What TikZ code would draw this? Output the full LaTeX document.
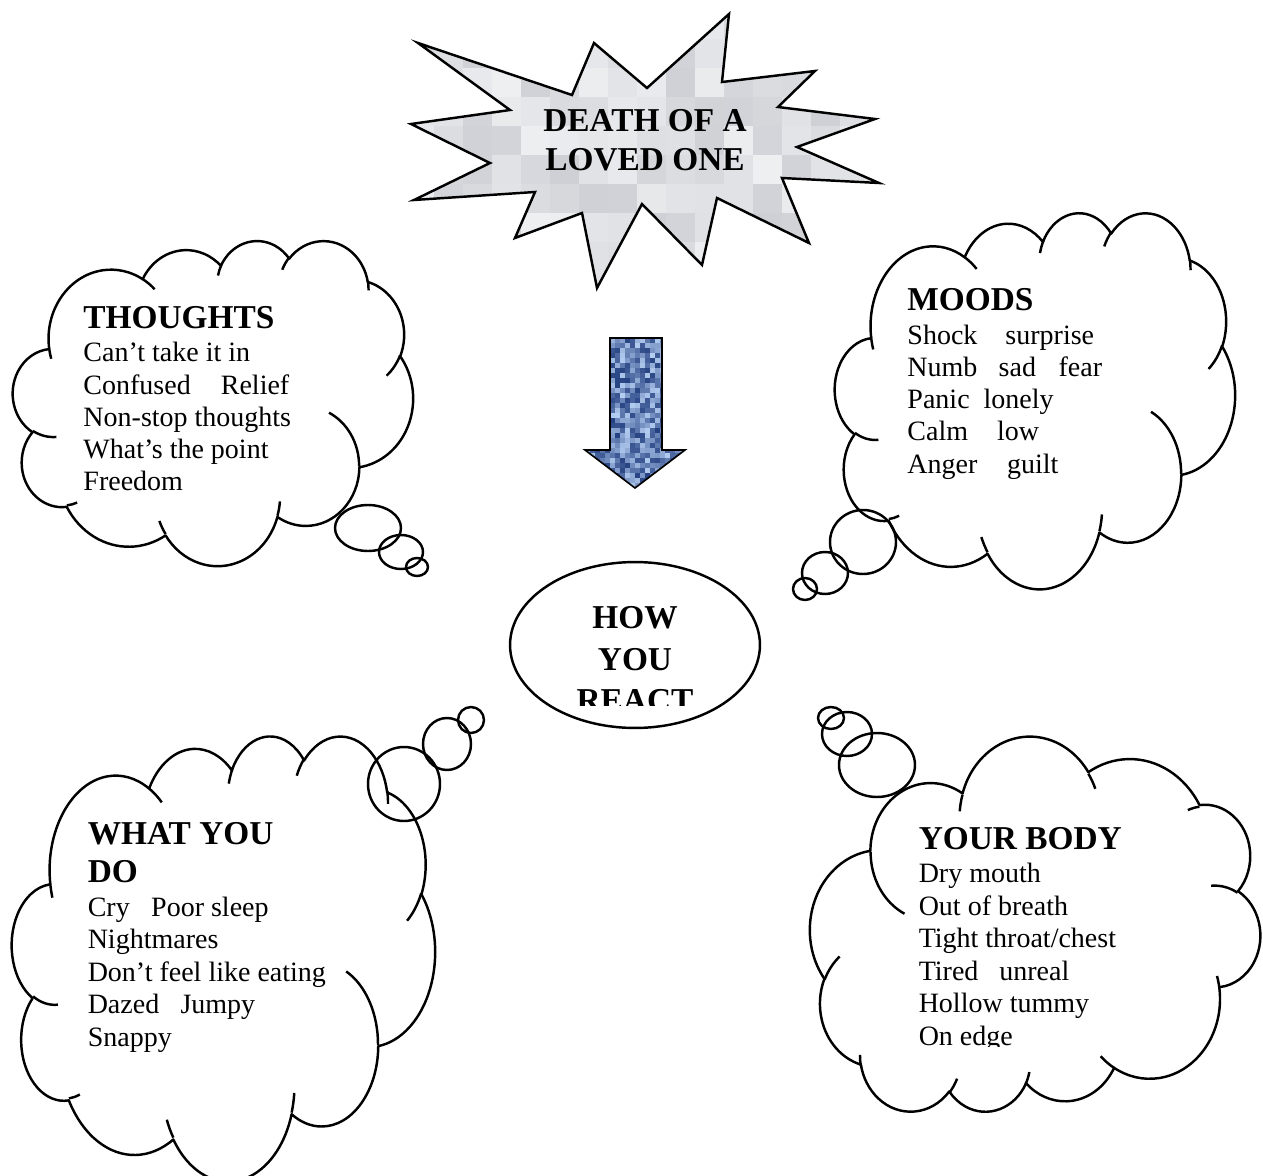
\documentclass[tikz,border=0pt]{standalone}
\usepackage{fontspec}
\setmainfont{Liberation Serif}
\usetikzlibrary{shapes.geometric}
\definecolor{sA}{RGB}{206,208,213}
\definecolor{sB}{RGB}{238,239,241}
\definecolor{bA}{RGB}{38,66,130}
\definecolor{bB}{RGB}{180,206,242}

\def\cloudpath{(9.028,33.264)
 arc[start angle=-187.746, end angle=-59.631, x radius=15.632, y radius=21.273]
 arc[start angle=-152.02, end angle=-45.46, x radius=12.345, y radius=16.822]
 arc[start angle=-153.49, end angle=-37.33, x radius=10.104, y radius=13.762]
 arc[start angle=-139.71, end angle=-10.21, x radius=11.243, y radius=15.266]
 arc[start angle=-74.77, end angle=23.21, x radius=12.345, y radius=16.836]
 arc[start angle=-37.52, end angle=81.86, x radius=15.683, y radius=21.343]
 arc[start angle=0.46, end angle=121.98, x radius=13.391, y radius=18.211]
 arc[start angle=16.84, end angle=146.22, x radius=15.630, y radius=21.331]
 arc[start angle=58.98, end angle=150.20, x radius=17.870, y radius=24.405]
 arc[start angle=-276.69, end angle=-136.89, x radius=10.093, y radius=13.699]
 arc[start angle=-239.66, end angle=-95.89, x radius=10.058, y radius=13.762]
 -- cycle}

\def\cloudhooks{(10.863,60.595) arc[start angle=85.55, end angle=120.35, x radius=10.058, y radius=13.762]
 (16.037,80.785) arc[start angle=68.24, end angle=83.30, x radius=10.093, y radius=13.699]
 (38.144,90.486) arc[start angle=146.22, end angle=158.47, x radius=15.630, y radius=21.331]
 (66.729,80.442) arc[start angle=4.74, end angle=16.84, x radius=15.630, y radius=21.331]
 (79.002,53.134) arc[start angle=-64.03, end angle=0.46, x radius=13.391, y radius=18.211]
 (96.755,35.542) arc[start angle=23.21, end angle=49.64, x radius=12.345, y radius=16.836]
 (88.713,12.560) arc[start angle=-10.21, end angle=0.82, x radius=11.243, y radius=15.266]
 (67.310,9.148) arc[start angle=-156.28, end angle=-139.71, x radius=11.243, y radius=15.266]
 (51.252,10.926) arc[start angle=-167.73, end angle=-153.49, x radius=10.104, y radius=13.762]
 (32.407,12.019) arc[start angle=-59.63, end angle=-45.74, x radius=15.632, y radius=21.273]
 (9.553,36.549) arc[start angle=163.19, end angle=172.25, x radius=15.632, y radius=21.273]}

\def\starpath{(418,43) -- (572,95) -- (594,43) -- (647,88) -- (729,14) -- (722,82) -- (815,71) -- (778,107) -- (875,119) -- (797,147) -- (879,183) -- (782,178) -- (809,243) -- (717,198) -- (702,265) -- (642,204) -- (597,288) -- (582,213) -- (515,238) -- (535,192) -- (414,200) -- (490,163) -- (411,124) -- (510,110) -- cycle}

\def\arrowpath{(610,338) -- (662,338) -- (662,450) -- (685,450) -- (635,488) -- (585,450) -- (610,450) -- cycle}

\begin{document}
\begin{tikzpicture}[x=0.428571pt, y=-0.428571pt,
  cl/.style={line width=1.05pt, line join=round},
  body/.style={font=\fontsize{12pt}{13.8pt}\selectfont, inner sep=0pt, anchor=base west},
  head/.style={font=\fontsize{14.3pt}{16pt}\selectfont\bfseries, inner sep=0pt, anchor=base west},
  headc/.style={font=\fontsize{14.3pt}{16pt}\selectfont\bfseries, inner sep=0pt, anchor=base}]

\fill[white] (0,0) rectangle (1263,1176);
\useasboundingbox (0,0) rectangle (1263,1176);

% ---------- starburst ----------
\pgfmathsetseed{4242}
\begin{scope}
  \clip \starpath;
  \foreach \i in {0,...,16}{
    \foreach \j in {0,...,9}{
      \pgfmathtruncatemacro\mixv{random(0,100)}
      \fill[sA!\mixv!sB] ({405+29*\i},{10+29*\j}) rectangle ++(29.5,29.5);
    }
  }
\end{scope}
\draw[cl, line join=miter] \starpath;
\node[headc] (death1) at (645,131) {DEATH OF A};
\node[headc] (death2) at (645,170.7) {LOVED ONE};

% ---------- arrow ----------
\begin{scope}
  \clip \arrowpath;
  \foreach \i in {0,...,19}{
    \foreach \j in {0,...,29}{
      \pgfmathtruncatemacro\mixv{random(0,100)}
      \fill[bA!\mixv!bB] ({585+5*\i},{338+5*\j}) rectangle ++(5.3,5.3);
    }
  }
\end{scope}
\draw[line width=0.7pt, line join=miter] \arrowpath;

% ---------- centre ellipse ----------
\node[ellipse, draw, line width=1.05pt, minimum width=107.1pt, minimum height=71.1pt, inner sep=0pt] (react) at (635,645) {};
\begin{scope}
  \clip (500,560) rectangle (770,705);
  \node[headc] (how1) at (635,628.3) {HOW};
  \node[headc] (how2) at (635,670) {YOU};
  \node[headc] (how3) at (635,711.7) {REACT};
\end{scope}

% ---------- THOUGHTS cloud ----------
\begin{scope}[shift={(13,240)}, xscale=4.0, yscale=3.25]
  \draw[cl, fill=white] \cloudpath;
  \draw[cl] \cloudhooks;
\end{scope}
\draw[cl] (368,528) ellipse [x radius=33, y radius=23];
\draw[cl] (401,552) ellipse [x radius=22, y radius=17];
\draw[cl] (417,567) ellipse [x radius=11, y radius=9];
\node[head] (th0) at (83,328.3) {THOUGHTS};
\node[body] (th1) at (83,361.7) {Can’t take it in};
\node[body] (th2) at (83,394) {Confused\hspace{12.9pt}Relief};
\node[body] (th3) at (83,426.3) {Non-stop thoughts};
\node[body] (th4) at (83,458.6) {What’s the point};
\node[body] (th5) at (83,490.9) {Freedom};

% ---------- MOODS cloud ----------
\begin{scope}[shift={(835,212)}, xscale=4.0, yscale=3.76]
  \draw[cl, fill=white] \cloudpath;
  \draw[cl] \cloudhooks;
\end{scope}
\draw[cl] (863,542) ellipse [x radius=33, y radius=32];
\draw[cl] (825,573) ellipse [x radius=23, y radius=21];
\draw[cl] (805,589) ellipse [x radius=12, y radius=11];
\node[head] (mo0) at (907,310.7) {MOODS};
\node[body] (mo1) at (907,344) {Shock\hspace{12pt}surprise};
\node[body] (mo2) at (907,376.4) {Numb\hspace{9.1pt}sad\hspace{9.7pt}fear};
\node[body] (mo3) at (907,408.6) {Panic\hspace{6pt}lonely};
\node[body] (mo4) at (907,440.8) {Calm\hspace{12.4pt}low};
\node[body] (mo5) at (907,473) {Anger\hspace{12.7pt}guilt};

% ---------- WHAT YOU DO cloud ----------
\begin{scope}[shift={(12,735)}, xscale=4.23, yscale=4.45]
  \draw[cl, fill=white] \cloudpath;
  \draw[cl] \cloudhooks;
\end{scope}
\draw[cl] (404,784) ellipse [x radius=36, y radius=37];
\draw[cl] (447,744) ellipse [x radius=24, y radius=26];
\draw[cl] (471,720) ellipse [x radius=13, y radius=13];
\node[head] (wd0) at (87.3,844) {WHAT YOU};
\node[head] (wd0b) at (87.3,882.7) {DO};
\node[body] (wd1) at (87.3,916) {Cry\hspace{9.2pt}Poor sleep};
\node[body] (wd2) at (87.3,948.5) {Nightmares};
\node[body] (wd3) at (87.3,981) {Don’t feel like eating};
\node[body] (wd4) at (87.3,1013.5) {Dazed\hspace{9.1pt}Jumpy};
\node[body] (wd5) at (87.3,1046) {Snappy};

% ---------- YOUR BODY cloud (rotated) ----------
\begin{scope}[shift={(1260,1113)}, xscale=-4.5, yscale=-3.75]
  \draw[cl, fill=white] \cloudpath;
  \draw[cl] \cloudhooks;
\end{scope}
\draw[cl] (877,765) ellipse [x radius=38, y radius=32];
\draw[cl] (847,734) ellipse [x radius=25, y radius=22];
\draw[cl] (831,718) ellipse [x radius=13, y radius=11];
\node[head] (yb0) at (918.3,849.3) {YOUR BODY};
\node[body] (yb1) at (918.3,882.7) {Dry mouth};
\node[body] (yb2) at (918.3,915) {Out of breath};
\node[body] (yb3) at (918.3,947.3) {Tight throat/chest};
\node[body] (yb4) at (918.3,980) {Tired\hspace{9pt}unreal};
\node[body] (yb5) at (918.3,1012.7) {Hollow tummy};
\begin{scope}
  \clip (900,1020) rectangle (1100,1046);
  \node[body] (yb6) at (918.3,1045) {On edge};
\end{scope}

\end{tikzpicture}
\end{document}
